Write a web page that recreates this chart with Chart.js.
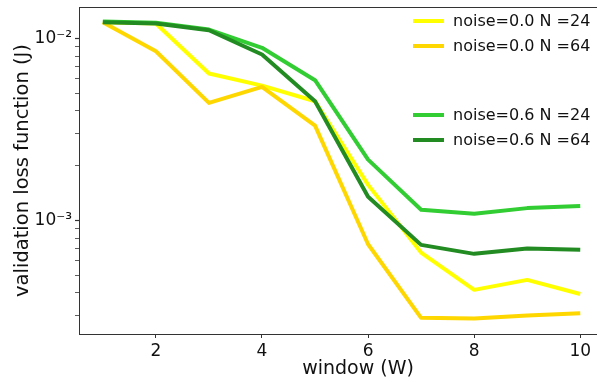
<!DOCTYPE html>
<html>
<head>
<meta charset="utf-8">
<script src="https://cdn.jsdelivr.net/npm/chart.js@4/dist/chart.umd.min.js"></script>
<style>
  body { margin: 0; overflow: hidden; background: #fff; }
  #wrap { width: 597px; height: 382px; overflow: hidden; }
</style>
</head>
<body>
<div id="wrap"><canvas id="chart" width="645" height="382"></canvas></div>
<script>
// data
const windows = [1, 2, 3, 4, 5, 6, 7, 8, 9, 10];
const noise0N24 = [0.0123, 0.0121, 0.00642, 0.00551, 0.00452, 0.00157, 0.000667, 0.000416, 0.000472, 0.000395];
const noise0N64 = [0.0123, 0.00851, 0.00443, 0.00542, 0.00332, 0.000741, 0.000292, 0.000290, 0.000301, 0.000309];
const noise6N24 = [0.0124, 0.0122, 0.0112, 0.00889, 0.00590, 0.00216, 0.001146, 0.001089, 0.00117, 0.00120];
const noise6N64 = [0.0123, 0.0121, 0.0111, 0.00817, 0.00452, 0.00135, 0.000735, 0.000656, 0.000701, 0.000690];

const xTicks = [2, 4, 6, 8, 10];
const yMajor = [1e-3, 1e-2];
const yMinor = [3e-4, 4e-4, 5e-4, 6e-4, 7e-4, 8e-4, 9e-4, 2e-3, 3e-3, 4e-3, 5e-3, 6e-3, 7e-3, 8e-3, 9e-3];
const yMajorLabels = ["10\u207B\u00B3", "10\u207B\u00B2"];

const font = "DejaVu Sans";

function series(label, values, color, order) {
  return {
    label: label,
    data: windows.map((w, i) => ({ x: w, y: values[i] })),
    borderColor: color,
    backgroundColor: color,
    borderWidth: 4,
    pointRadius: 0,
    tension: 0,
    fill: false,
    order: order,
    borderJoinStyle: "round",
  };
}

// legend drawn inside the axes, with the gap between the two groups
const legendPlugin = {
  id: "innerLegend",
  afterDraw(chart) {
    const ctx = chart.ctx;
    const rows = [21, 46, 115, 140];
    ctx.save();
    ctx.font = "16px '" + font + "'";
    ctx.textBaseline = "middle";
    chart.data.datasets.forEach((ds, i) => {
      const y = rows[i];
      ctx.strokeStyle = ds.borderColor;
      ctx.lineWidth = 4;
      ctx.beginPath();
      ctx.moveTo(413, y);
      ctx.lineTo(444, y);
      ctx.stroke();
      ctx.fillStyle = "#111";
      ctx.fillText(ds.label, 453, y + 1);
    });
    ctx.restore();
  },
};

// box round the plot area
const framePlugin = {
  id: "frame",
  afterDatasetsDraw(chart) {
    const a = chart.chartArea;
    const ctx = chart.ctx;
    ctx.save();
    ctx.strokeStyle = "#333";
    ctx.lineWidth = 1;
    ctx.strokeRect(Math.round(a.left) + 0.5, Math.round(a.top) + 0.5, a.right - a.left, a.bottom - a.top);
    ctx.restore();
  },
};

const chart = document.querySelector("#chart").getContext("2d");

new Chart(chart, {
  type: "line",
  data: {
    datasets: [
      series("noise=0.0 N =24", noise0N24, "#ffff00", 4),
      series("noise=0.0 N =64", noise0N64, "#ffd700", 3),
      series("noise=0.6 N =24", noise6N24, "#32cd32", 2),
      series("noise=0.6 N =64", noise6N64, "#228b22", 1),
    ],
  },
  options: {
    responsive: false,
    animation: false,
    devicePixelRatio: 1,
    layout: { padding: { top: 7, right: 8, left: 0, bottom: 0 } },
    plugins: { legend: { display: false }, tooltip: { enabled: false } },
    scales: {
      x: {
        type: "linear",
        min: 0.55,
        max: 11.07,
        afterBuildTicks: (scale) => {
          scale.ticks = xTicks.map((v) => ({ value: v }));
        },
        afterFit: (scale) => {
          scale.height = 48;
          scale.paddingLeft = 0;
          scale.paddingRight = 0;
        },
        ticks: {
          autoSkip: false,
          maxRotation: 0,
          padding: 3,
          color: "#111",
          font: { family: font, size: 17 },
        },
        grid: { drawOnChartArea: false, drawTicks: true, tickLength: 4, color: "#333" },
        border: { display: true, color: "#333", width: 1 },
        title: {
          display: true,
          text: "window (W)",
          color: "#111",
          font: { family: font, size: 19 },
          padding: { top: 0, bottom: 2 },
        },
      },
      y: {
        type: "logarithmic",
        min: 2.38e-4,
        max: 0.0149,
        afterBuildTicks: (scale) => {
          const all = yMinor.concat(yMajor).sort((a, b) => a - b);
          scale.ticks = all.map((v) => ({ value: v, major: yMajor.includes(v) }));
        },
        afterFit: (scale) => {
          scale.width = 79;
          scale.paddingTop = 0;
          scale.paddingBottom = 0;
        },
        ticks: {
          autoSkip: false,
          padding: 3,
          color: "#111",
          font: { family: font, size: 17 },
          callback: (v) => {
            const k = yMajor.indexOf(v);
            return k >= 0 ? yMajorLabels[k] : "";
          },
        },
        grid: {
          drawOnChartArea: false,
          drawTicks: true,
          tickLength: 4,
          color: "#333",
          tickWidth: (ctx) => (ctx.tick && ctx.tick.major ? 1.2 : 0.8),
        },
        border: { display: true, color: "#333", width: 1 },
        title: {
          display: true,
          text: "validation loss function (J)",
          color: "#111",
          font: { family: font, size: 19.5 },
          padding: { top: 11, bottom: 0 },
        },
      },
    },
  },
  plugins: [legendPlugin, framePlugin],
});
</script>
</body>
</html>
